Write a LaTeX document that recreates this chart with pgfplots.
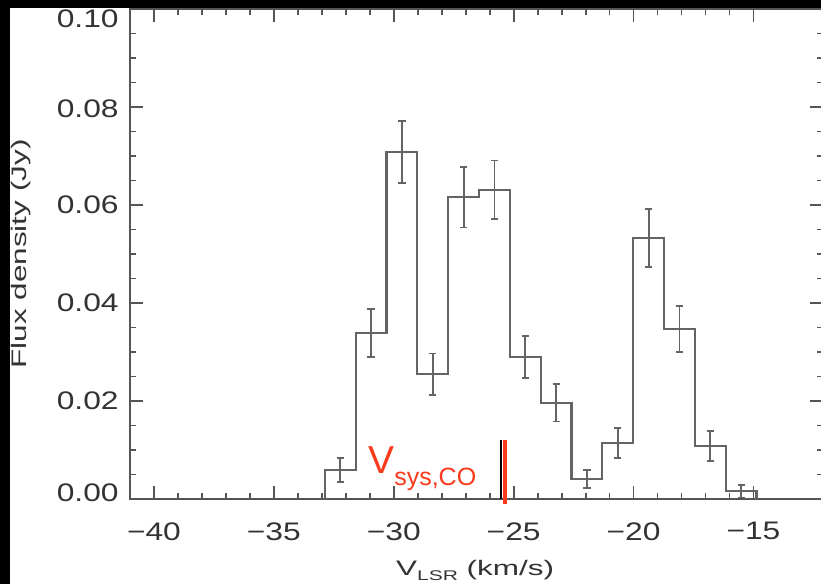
\documentclass[border=0pt]{standalone}
\usepackage{pgfplots}
\pgfplotsset{compat=1.18}
\usepackage{fontspec}
\setmainfont{Liberation Sans}
\newfontfamily\tickfont{Liberation Sans}[FakeStretch=1.25]
\newfontfamily\labfont{Liberation Sans}[FakeStretch=1.5]
\definecolor{vred}{RGB}{250,58,28}
\definecolor{axgray}{RGB}{85,85,85}
\definecolor{histgray}{RGB}{100,100,100}
\newcommand{\yl}[2]{\raisebox{#1}[0pt][0pt]{#2}}
\begin{document}
\begin{tikzpicture}
\fill[white] (0,0) rectangle (410.5pt,292pt);
\begin{pgfinterruptboundingbox}
\begin{axis}[
  at={(65pt,42.5pt)}, anchor=south west,
  scale only axis, width=346.5pt, height=245pt,
  xmin=-41, xmax=-12.1, ymin=0, ymax=0.1,
  clip=false,
  axis line style={axgray, line width=0.9pt},
  every tick/.style={axgray, line width=0.9pt},
  tick align=inside,
  major tick length=6.5pt, minor tick length=3pt,
  xtick={-40,-35,-30,-25,-20,-15},
  xticklabels={−40,−35,−30,−25,−20,−15},
  minor x tick num=4,
  ytick={0,0.02,0.04,0.06,0.08,0.1},
  yticklabels={\yl{-1.3pt}{0.00},\yl{-4.5pt}{0.02},\yl{-4.5pt}{0.04},\yl{-4.5pt}{0.06},\yl{-5.5pt}{0.08},\yl{-9.5pt}{0.10}},
  minor y tick num=3,
  scaled y ticks=false,
  xticklabel style={font=\fontsize{12.7pt}{14pt}\tickfont, text=black!80, inner sep=0pt, anchor=north, yshift=-11.5pt},
  yticklabel style={font=\fontsize{12.7pt}{14pt}\tickfont, text=black!80, inner sep=0pt, anchor=east, xshift=-5.5pt},
]
% histogram
\addplot[const plot, histgray, line width=1.1pt] coordinates {
  (-32.875,0) (-32.875,0.0059) (-31.589,0.0339) (-30.303,0.0708) (-29.017,0.0255)
  (-27.731,0.0616) (-26.445,0.0631) (-25.159,0.0290) (-23.873,0.0196) (-22.587,0.0041)
  (-21.301,0.0114) (-20.015,0.0533) (-18.729,0.0347) (-17.443,0.0108) (-16.157,0.0016)
  (-14.871,0.0016) (-14.871,0)
};
% error bars
\addplot[draw=none, mark=none, histgray,
  error bars/.cd, y dir=both, y explicit,
  error bar style={histgray, line width=0.9pt},
  error mark options={rotate=90, histgray, mark size=1.8pt, line width=0.9pt}]
  coordinates {
  (-32.232,0.0059) +- (0,0.0025)
  (-30.946,0.0339) +- (0,0.0049)
  (-29.660,0.0708) +- (0,0.0063)
  (-28.374,0.0255) +- (0,0.0042)
  (-27.088,0.0616) +- (0,0.0062)
  (-25.802,0.0631) +- (0,0.0060)
  (-24.516,0.0290) +- (0,0.0043)
  (-23.230,0.0196) +- (0,0.0038)
  (-21.944,0.0041) +- (0,0.0018)
  (-20.658,0.0114) +- (0,0.0031)
  (-19.372,0.0533) +- (0,0.0059)
  (-18.086,0.0347) +- (0,0.0047)
  (-16.800,0.0108) +- (0,0.0030)
  (-15.514,0.0016) +- (0,0.0013)
};
% systemic velocity markers
\addplot[black, line width=1.1pt] coordinates {(-25.54,0) (-25.54,0.0120)};
\addplot[vred, line width=2pt] coordinates {(-25.375,-0.0010) (-25.375,0.0121)};
\node[anchor=base west, inner sep=0pt, text=vred] at (axis cs:-31.08,0.0053)
  {\fontsize{19.5pt}{22pt}\selectfont V\raisebox{-6pt}{\fontsize{12.5pt}{14pt}\selectfont sys,CO}};
\node[rotate=90, anchor=base, inner sep=0pt, text=black!80, font=\fontsize{10.5pt}{12pt}\labfont]
  at ([xshift=-51.5pt]axis description cs:0,0.5) {Flux density (Jy)};
\node[anchor=north, inner sep=0pt, text=black!80, font=\fontsize{10.5pt}{12pt}\labfont]
  at ([yshift=-30.5pt]axis description cs:0.498,0) {V\raisebox{-2.5pt}{\fontsize{7pt}{8pt}\labfont LSR} (km/s)};
\end{axis}
\fill[black] (0,0) rectangle (5pt,292pt);
\fill[black] (0,288pt) rectangle (410.5pt,292pt);
\end{pgfinterruptboundingbox}
\end{tikzpicture}
\end{document}
